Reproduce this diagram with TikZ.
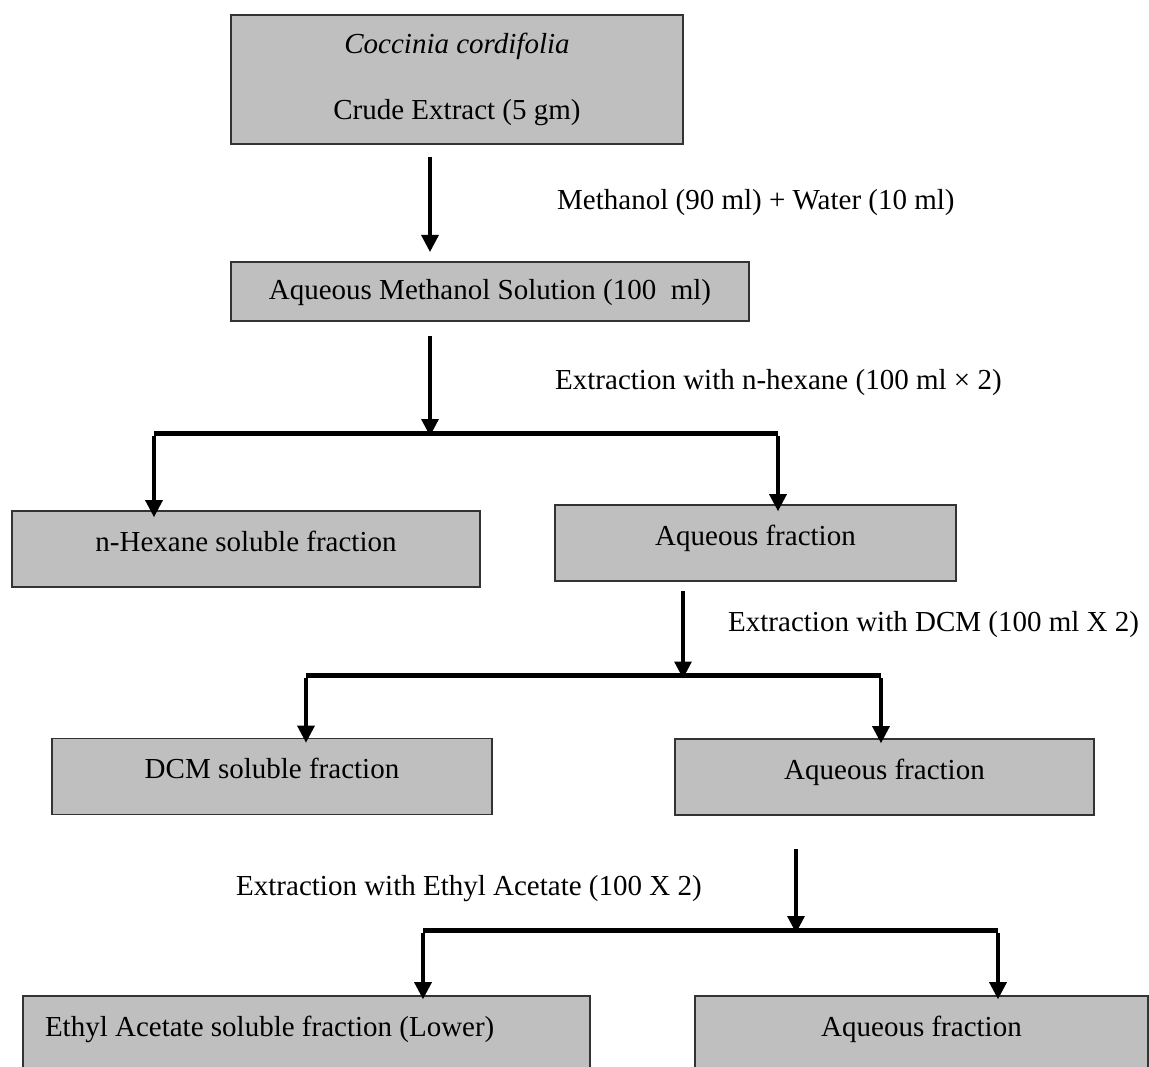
\documentclass[tikz,border=0pt]{standalone}
\usepackage{fontspec}
\setmainfont{Liberation Serif}
\usetikzlibrary{arrows.meta}
\tikzset{
	box/.style={draw=black!80, line width=1.6pt, fill=black!25, inner sep=0pt},
	fracbox/.style={box, minimum height=76pt, text height=20pt, text depth=16pt},
	flow/.style={line width=3.2pt, -{Triangle[width=17pt,length=17pt]}},
	bar/.style={line width=5pt},
	note/.style={anchor=base west, inner sep=0pt}
}

\begin{document}
\begin{tikzpicture}[x=1pt, y=-1pt, every node/.style={font=\fontsize{29}{35}\selectfont}]
			%%%%% START %%%%%
			
			\clip (0, 0) rectangle (1149, 1067);
			\fill[white] (0, 0) rectangle (1149, 1067);
			
			% crude extract
			\node[box, minimum width=452pt, minimum height=129pt, align=center] (crude) at (457, 79.5)
				{\textit{Coccinia cordifolia}\\[31pt]Crude Extract (5 gm)};
			\coordinate (crudeout) at (430, 157);
			\coordinate (crudein) at (430, 252);
			\draw[flow] (crudeout) -- (crudein);
			\node[note] (solvent) at (557, 210) {Methanol (90 ml) + Water (10 ml)};
			
			% aqueous methanol
			\node[box, minimum width=518pt, minimum height=59pt, text height=20pt, text depth=3pt] (aqmeth) at (490, 291.5)
				{Aqueous Methanol Solution (100\ \ ml)};
			\coordinate (aqmethout) at (430, 336);
			\coordinate (hexsplit) at (430, 433);
			\draw[flow] (aqmethout) -- ([yshift=-3pt]hexsplit);
			\node[note] (hexstep) at (555, 389) {Extraction with n-hexane (100 ml × 2)};
			
			\coordinate (hexL) at (154, 433);
			\coordinate (hexR) at (778, 433);
			\draw[bar] (hexL) -- (hexR);
			
			\node[fracbox, minimum width=468pt] (hexfrac) at (246, 549) {n-Hexane soluble fraction};
			\node[fracbox, minimum width=401pt] (aqfracA) at (755.5, 543) {Aqueous fraction};
			\draw[flow] ([yshift=-2.5pt]hexL) -- ([yshift=-7pt]hexfrac.north -| hexL);
			\draw[flow] ([yshift=-2.5pt]hexR) -- ([yshift=-7pt]aqfracA.north -| hexR);
			
			% DCM
			\coordinate (aqAout) at (683, 591);
			\coordinate (dcmsplit) at (683, 675.5);
			\draw[flow] (aqAout) -- ([yshift=-3pt]dcmsplit);
			\node[note] (dcmstep) at (728, 631) {Extraction with DCM (100 ml X 2)};
			
			\coordinate (dcmL) at (306, 675.5);
			\coordinate (dcmR) at (881, 675.5);
			\draw[bar] (dcmL) -- (dcmR);
			
			\node[fracbox, minimum width=440pt] (dcmfrac) at (272, 776.5) {DCM soluble fraction};
			\node[fracbox, minimum width=419pt] (aqfracB) at (884.5, 777) {Aqueous fraction};
			\draw[flow] ([yshift=-2.5pt]dcmL) -- ([yshift=-5pt]dcmfrac.north -| dcmL);
			\draw[flow] ([yshift=-2.5pt]dcmR) -- ([yshift=-5pt]aqfracB.north -| dcmR);
			
			% ethyl acetate
			\coordinate (aqBout) at (796, 849);
			\coordinate (easplit) at (796, 930);
			\draw[flow] (aqBout) -- ([yshift=-3pt]easplit);
			\node[note] (eastep) at (236, 895) {Extraction with Ethyl Acetate (100 X 2)};
			
			\coordinate (eaL) at (423, 930);
			\coordinate (eaR) at (998, 930);
			\draw[bar] (eaL) -- (eaR);
			
			\node[fracbox, minimum width=567pt, text width=523pt, inner xsep=22pt, align=flush left] (eafrac) at (306.5, 1034)
				{Ethyl Acetate soluble fraction (Lower)};
			\node[fracbox, minimum width=453pt] (aqfracC) at (921.5, 1034) {Aqueous fraction};
			\draw[flow] ([yshift=-2.5pt]eaL) -- ([yshift=-4pt]eafrac.north -| eaL);
			\draw[flow] ([yshift=-2.5pt]eaR) -- ([yshift=-4pt]aqfracC.north -| eaR);
			
			%%%%% END %%%%%
\end{tikzpicture}
\end{document}
